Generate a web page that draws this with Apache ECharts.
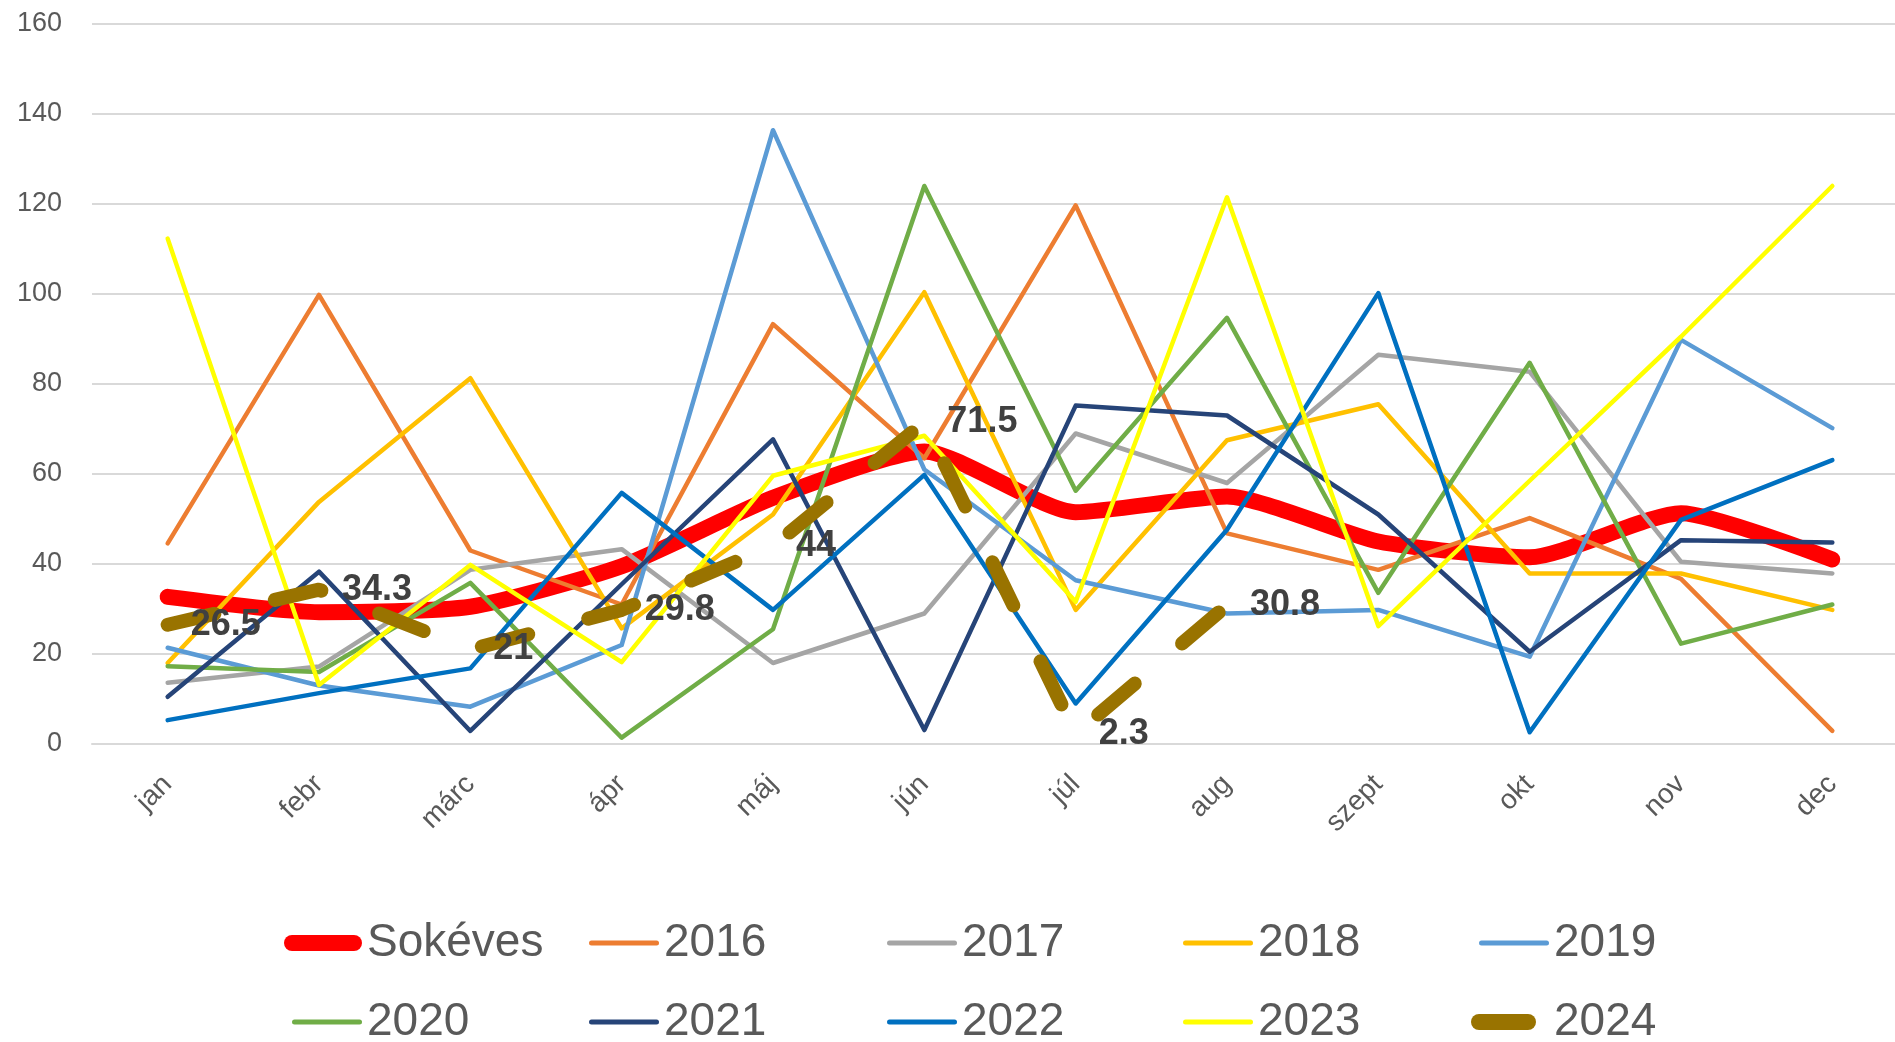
<!DOCTYPE html>
<html>
<head>
<meta charset="utf-8">
<script src="https://cdn.jsdelivr.net/npm/echarts@6/dist/echarts.min.js"></script>
<style>
  html, body { margin: 0; padding: 0; background: #fff; overflow: hidden; }
  /* the plot area runs a little past the right edge, like the source */
  #main { width: 1908px; height: 1042px; }
</style>
</head>
<body>
<div id="main"></div>
<script>
  // kategóriák és y tengely
  var months = ['jan', 'febr', 'márc', 'ápr', 'máj', 'jún', 'júl', 'aug', 'szept', 'okt', 'nov', 'dec'];
  var yMin = 0, yMax = 160, yStep = 20;

  // havi értékek
  var sokeves = [32.7, 29.3, 30.5, 39.5, 54.7, 65, 51.5, 55, 45, 41.5, 51.3, 41];
  var v2016 = [44.6, 99.8, 43, 31, 93.3, 63.5, 119.7, 46.8, 38.7, 50.2, 36.7, 2.9];
  var v2017 = [13.6, 17.2, 38.7, 43.3, 18, 29, 69, 58, 86.5, 82.7, 40.5, 37.9];
  var v2018 = [18, 53.8, 81.3, 25.7, 51, 100.4, 29.8, 67.5, 75.5, 37.9, 37.9, 29.8];
  var v2019 = [21.4, 13, 8.3, 22, 136.4, 61, 36.4, 29, 29.8, 19.4, 89.8, 70.2];
  var v2020 = [17.3, 16, 35.8, 1.4, 25.5, 124, 56.3, 94.7, 33.6, 84.7, 22.3, 31];
  var v2021 = [10.5, 38.3, 2.9, 35.5, 67.7, 3.1, 75.2, 73, 51, 20.5, 45.3, 44.8];
  var v2022 = [5.3, 11.3, 16.8, 55.8, 29.8, 59.8, 9, 47.6, 100.2, 2.6, 49.8, 63.1];
  var v2023 = [112.3, 13.1, 39.8, 18.2, 59.6, 68.5, 31.6, 121.5, 26.2, 58.5, 90.5, 124];
  var v2024 = [26.5, 34.3, 21, 29.8, 44, 71.5, 2.3, 30.8];

  var font = "'Liberation Sans', Arial, sans-serif";
  var txtColor = '#595959';

  // sorozatok stílusa
  var defs = [
    { name: 'Sokéves', data: sokeves, color: '#FF0000', width: 16, smooth: 0.2 },
    { name: '2016', data: v2016, color: '#ED7D31', width: 4.5 },
    { name: '2017', data: v2017, color: '#A5A5A5', width: 4.5 },
    { name: '2018', data: v2018, color: '#FFC000', width: 4.5 },
    { name: '2019', data: v2019, color: '#5B9BD5', width: 4.5 },
    { name: '2020', data: v2020, color: '#70AD47', width: 4.5 },
    { name: '2021', data: v2021, color: '#264478', width: 4.5 },
    { name: '2022', data: v2022, color: '#0070C0', width: 4.5 },
    { name: '2023', data: v2023, color: '#FFFF00', width: 4.5 },
    { name: '2024', data: v2024, color: '#997300', width: 14, dash: [48, 62], labels: true }
  ];

  function capsule(w, h) {
    var r = h / 2;
    return 'path://M' + r + ',0L' + (w - r) + ',0A' + r + ',' + r + ',0,0,1,' + (w - r) + ',' + h +
      'L' + r + ',' + h + 'A' + r + ',' + r + ',0,0,1,' + r + ',0Z';
  }

  var series = defs.map(function (d) {
    var s = {
      name: d.name,
      type: 'line',
      data: d.data,
      smooth: d.smooth || false,
      symbol: d.labels ? 'circle' : 'none',
      symbolSize: 0,
      showSymbol: true,
      itemStyle: { color: d.color },
      lineStyle: {
        color: d.color,
        width: d.width,
        type: d.dash || 'solid',
        cap: 'round',
        join: 'round'
      },
      emphasis: { disabled: true },
      silent: true
    };
    if (d.labels) {
      s.label = {
        show: true,
        position: 'right',
        distance: 23,
        fontSize: 36,
        fontWeight: 'bold',
        color: '#404040',
        fontFamily: font
      };
    }
    return s;
  });

  // jelmagyarázat: 2 sor, 5 oszlop
  var colTextX = [367, 664, 962, 1258, 1554];
  var rowTop = [920, 999];
  var legends = defs.map(function (d, i) {
    var thick = d.width > 10;
    var w = d.name === 'Sokéves' ? 78 : (d.name === '2024' ? 65 : 70);
    var h = thick ? 16 : 5;
    var extra = d.name === '2024' ? 13 : 0;
    return {
      data: [d.name],
      left: colTextX[i % 5] - 5 - w - extra,
      top: rowTop[Math.floor(i / 5)],
      padding: 0,
      itemWidth: w,
      itemHeight: h,
      icon: capsule(w, h),
      itemStyle: { borderWidth: 0 },
      selectedMode: false,
      textStyle: {
        fontSize: 46,
        color: txtColor,
        fontFamily: font,
        padding: [0, 0, 0, extra]
      }
    };
  });

  var chart = echarts.init(document.getElementById('main'));
  chart.setOption({
    animation: false,
    grid: { left: 92, top: 24, right: 0, height: 720 },
    legend: legends,
    xAxis: {
      type: 'category',
      data: months,
      boundaryGap: true,
      axisTick: { show: false },
      axisLine: { lineStyle: { color: '#D9D9D9', width: 2 } },
      axisLabel: {
        interval: 0,
        rotate: 45,
        margin: 36,
        fontSize: 28,
        color: txtColor,
        fontFamily: font
      }
    },
    yAxis: {
      type: 'value',
      min: yMin,
      max: yMax,
      interval: yStep,
      axisLine: { show: false },
      axisTick: { show: false },
      splitLine: { lineStyle: { color: '#D9D9D9', width: 2 } },
      axisLabel: { margin: 30, fontSize: 27, color: txtColor, fontFamily: font }
    },
    series: series
  });
</script>
</body>
</html>
